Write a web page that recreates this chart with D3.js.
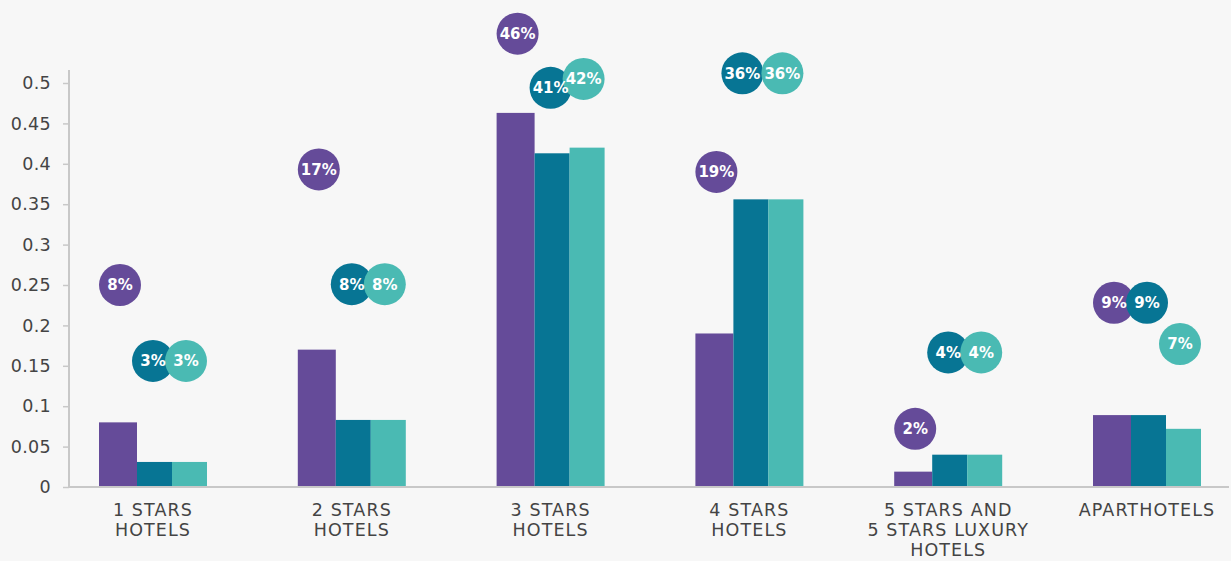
<!DOCTYPE html>
<html>
<head>
<meta charset="utf-8">
<script src="https://cdn.jsdelivr.net/npm/d3@7"></script>
<style>
  html, body { margin: 0; padding: 0; background: #f7f7f7; }
  svg { display: block; }
</style>
</head>
<body>
<svg id="chart" width="1231" height="561"></svg>
<script>
// Hotel categories (label lines)
const categories = ["1 STARS HOTELS", "2 STARS HOTELS", "3 STARS HOTELS", "4 STARS HOTELS",
  "5 STARS AND 5 STARS LUXURY HOTELS", "APARTHOTELS"];
const categoryLines = [
  ["1 STARS", "HOTELS"],
  ["2 STARS", "HOTELS"],
  ["3 STARS", "HOTELS"],
  ["4 STARS", "HOTELS"],
  ["5 STARS AND", "5 STARS LUXURY", "HOTELS"],
  ["APARTHOTELS"]
];

// Share per category, three series
const seriesA = [0.08, 0.17, 0.463, 0.19, 0.019, 0.089];
const seriesB = [0.031, 0.083, 0.413, 0.356, 0.04, 0.089];
const seriesC = [0.031, 0.083, 0.42, 0.356, 0.04, 0.072];

// Heights (in axis units) at which each percentage bubble floats
const bubbleLevelA = [0.25, 0.393, 0.561, 0.39, 0.072, 0.228];
const bubbleLevelB = [0.156, 0.251, 0.494, 0.512, 0.1665, 0.228];
const bubbleLevelC = [0.156, 0.251, 0.505, 0.512, 0.1665, 0.177];

// Y axis ticks
const yTicks = [0, 0.05, 0.1, 0.15, 0.2, 0.25, 0.3, 0.35, 0.4, 0.45, 0.5];
const yTickLabels = ["0", "0.05", "0.1", "0.15", "0.2", "0.25", "0.3", "0.35", "0.4", "0.45", "0.5"];

const colors = ["#654b99", "#077594", "#4abab3"];
const series = [
  { values: seriesA, levels: bubbleLevelA, color: colors[0] },
  { values: seriesB, levels: bubbleLevelB, color: colors[1] },
  { values: seriesC, levels: bubbleLevelC, color: colors[2] }
];

const svg = d3.select("#chart");
const axisX = 69, axisTop = 70, baseY = 487, rightEnd = 1229;

const x = d3.scaleBand().domain(categories).range([53.6, 1246.4]).padding(0);
const y = d3.scaleLinear().domain([0, 0.5]).range([baseY, 83]);

// bar slots within each group: left edge offset and width relative to the group centre
const slots = [{ dx: -54, w: 38 }, { dx: -16, w: 35 }, { dx: 19, w: 35 }];
// bubble horizontal offsets relative to the group centre
const bubbleDx = [-33, 0, 33];
const bubbleNudge = { "4 STARS HOTELS": [0, -7, 0] };
const R = 21;
const pct = d3.format(".0%");
const center = c => x(c) + x.bandwidth() / 2;

// Y axis
const yAxis = d3.axisLeft(y).tickValues(yTicks)
  .tickFormat((d, i) => yTickLabels[i]).tickSize(6).tickPadding(12);
const gy = svg.append("g").attr("transform", `translate(${axisX},0)`).call(yAxis);
gy.select(".domain").remove();
gy.selectAll(".tick line").attr("stroke", "#c8c8c8").attr("stroke-width", 1.5);
gy.selectAll(".tick text")
  .attr("fill", "#444").attr("font-family", "DejaVu Sans, sans-serif")
  .attr("font-size", 17.5).attr("letter-spacing", 0.3);
svg.append("line").attr("x1", axisX).attr("x2", axisX).attr("y1", axisTop).attr("y2", baseY)
  .attr("stroke", "#c8c8c8").attr("stroke-width", 2);

// Bars
series.forEach((s, si) => {
  svg.append("g").selectAll("rect").data(categories).join("rect")
    .attr("x", c => center(c) + slots[si].dx)
    .attr("width", slots[si].w)
    .attr("y", (c, i) => y(s.values[i]))
    .attr("height", (c, i) => baseY - y(s.values[i]))
    .attr("fill", s.color);
});

// Baseline
svg.append("line").attr("x1", axisX).attr("x2", rightEnd).attr("y1", baseY).attr("y2", baseY)
  .attr("stroke", "#c8c8c8").attr("stroke-width", 2);

// X axis labels
const xAxis = d3.axisBottom(x).tickSize(0).tickFormat(() => "");
const gx = svg.append("g").attr("transform", `translate(0,${baseY})`).call(xAxis);
gx.select(".domain").remove();
gx.selectAll(".tick").each(function(c, i) {
  const t = d3.select(this).append("text")
    .attr("text-anchor", "middle").attr("fill", "#444")
    .attr("font-family", "DejaVu Sans, sans-serif").attr("font-size", 17.5)
    .attr("letter-spacing", 1.1);
  categoryLines[i].forEach((line, li) => {
    t.append("tspan").attr("x", 0).attr("y", 29 + li * 20).text(line);
  });
});

// Percentage bubbles
const bubbleX = (c, si) => center(c) + bubbleDx[si] + ((bubbleNudge[c] || [0, 0, 0])[si]);
series.forEach((s, si) => {
  svg.append("g").selectAll("circle").data(categories).join("circle")
    .attr("cx", c => bubbleX(c, si))
    .attr("cy", (c, i) => y(s.levels[i]))
    .attr("r", R)
    .attr("fill", s.color);
});
series.forEach((s, si) => {
  svg.append("g").selectAll("text").data(categories).join("text")
    .attr("x", c => bubbleX(c, si))
    .attr("y", (c, i) => y(s.levels[i]))
    .attr("dy", "0.36em")
    .attr("text-anchor", "middle")
    .attr("fill", "#fff")
    .attr("font-family", "DejaVu Sans, sans-serif")
    .attr("font-weight", "bold")
    .attr("font-size", 15)
    .text((c, i) => pct(s.values[i]));
});
</script>
</body>
</html>
